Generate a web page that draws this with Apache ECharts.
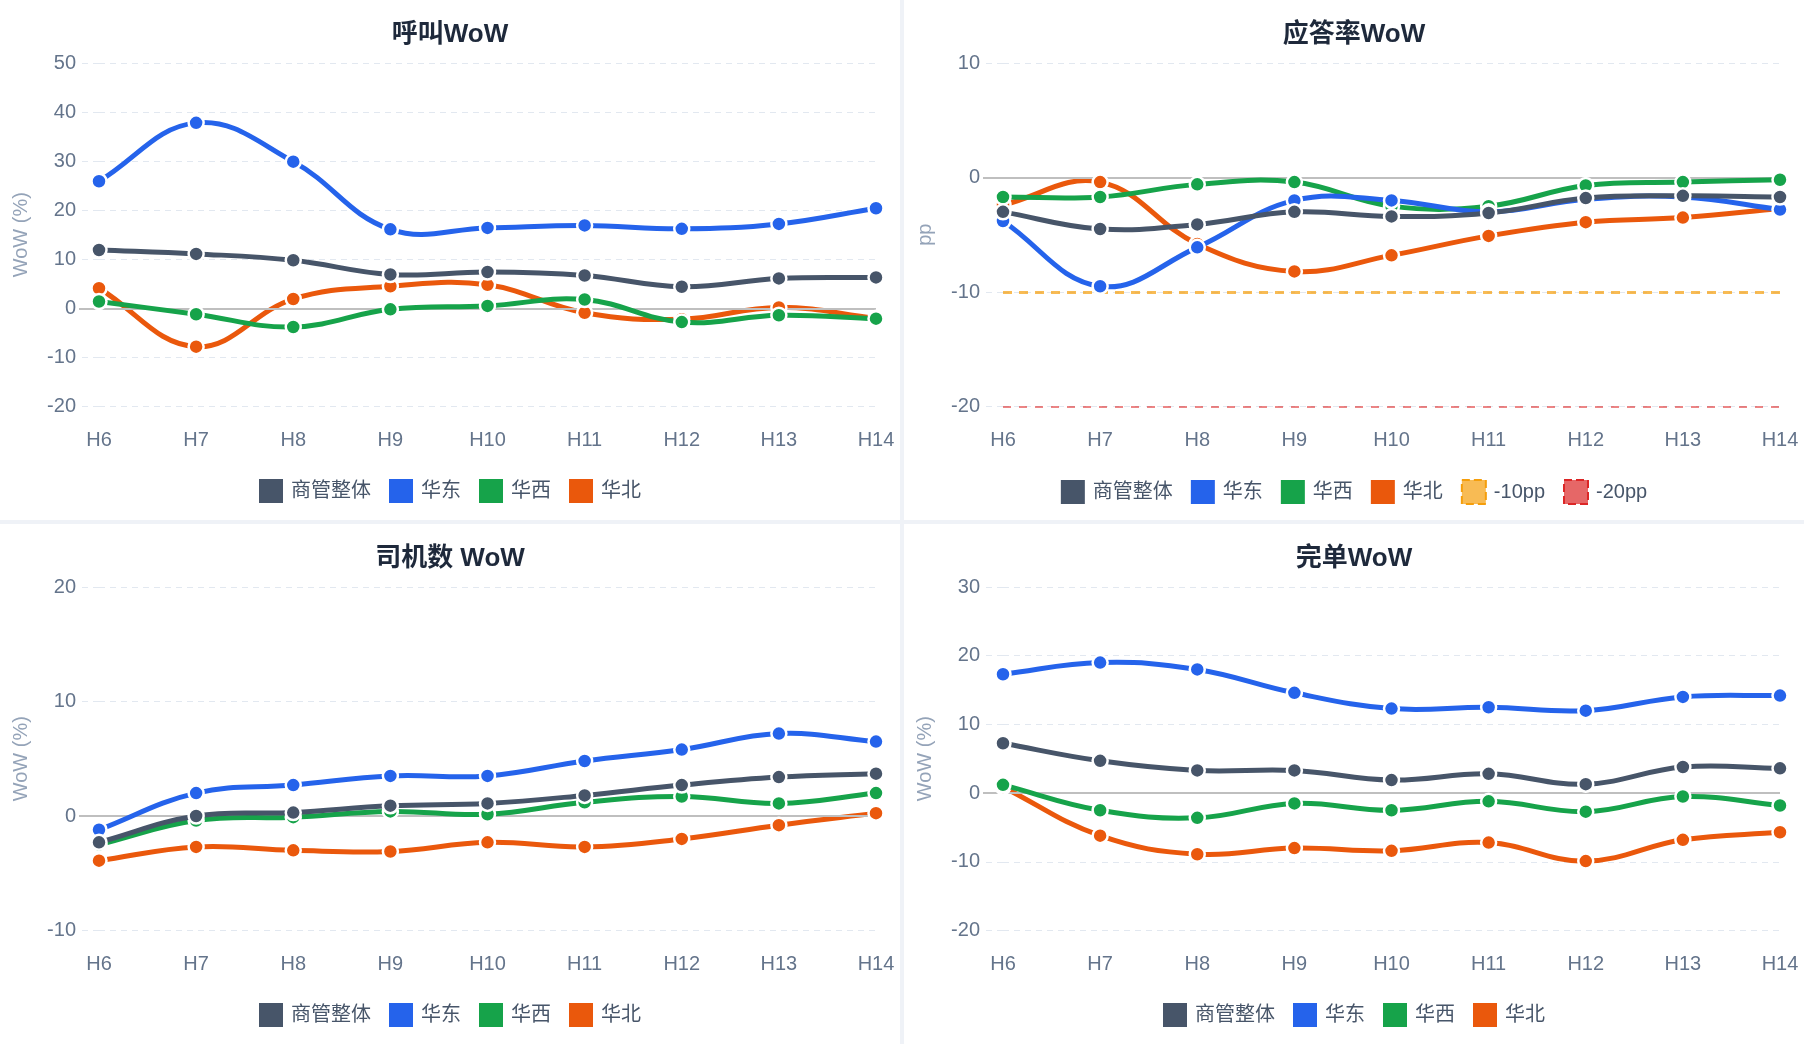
<!DOCTYPE html>
<html lang="zh-CN">
<head>
<meta charset="utf-8">
<title>商管 WoW 看板</title>
<script src="https://cdn.jsdelivr.net/npm/echarts@6/dist/echarts.min.js"></script>
<style>
  html, body { margin: 0; padding: 0; background: #eff2f7; }
  #board {
    display: grid;
    grid-template-columns: 900px 900px;
    grid-template-rows: 520px 520px;
    gap: 4px;
    width: 1804px;
    height: 1044px;
  }
  .panel { background: #fff; width: 900px; height: 520px; }
</style>
</head>
<body>
<div id="board">
  <div class="panel" id="calls"></div>
  <div class="panel" id="answer"></div>
  <div class="panel" id="drivers"></div>
  <div class="panel" id="done"></div>
</div>
<script>
// 横轴：小时
const hours = ['H6', 'H7', 'H8', 'H9', 'H10', 'H11', 'H12', 'H13', 'H14']
const regions = ['商管整体', '华东', '华西', '华北']
const regionColors = ['#475569', '#2563eb', '#16a34a', '#ea580c']

// 呼叫 WoW (%)
const callsTotal = [11.9, 11.1, 9.8, 6.9, 7.4, 6.7, 4.4, 6.1, 6.3]
const callsEast = [25.9, 37.8, 29.9, 16.1, 16.4, 16.9, 16.2, 17.2, 20.4]
const callsWest = [1.4, -1.2, -3.8, -0.2, 0.5, 1.8, -2.8, -1.4, -2.1]
const callsNorth = [4.1, -7.8, 1.9, 4.5, 4.8, -0.9, -2.2, 0.2, -2.0]

// 应答率 WoW (pp)
const answerTotal = [-3.0, -4.5, -4.1, -3.0, -3.4, -3.1, -1.8, -1.6, -1.7]
const answerEast = [-3.8, -9.5, -6.1, -2.0, -2.0, -3.0, -1.9, -1.7, -2.8]
const answerWest = [-1.7, -1.7, -0.6, -0.4, -2.5, -2.5, -0.7, -0.4, -0.2]
const answerNorth = [-2.4, -0.4, -5.8, -8.2, -6.8, -5.1, -3.9, -3.5, -2.7]
const answerThresholds = [-10, -20]
const thresholdNames = ['-10pp', '-20pp']

// 司机数 WoW (%)
const driversTotal = [-2.3, 0.0, 0.3, 0.9, 1.1, 1.8, 2.7, 3.4, 3.7]
const driversEast = [-1.2, 2.0, 2.7, 3.5, 3.5, 4.8, 5.8, 7.2, 6.5]
const driversWest = [-2.5, -0.4, -0.1, 0.4, 0.15, 1.2, 1.7, 1.1, 2.0]
const driversNorth = [-3.9, -2.7, -3.0, -3.1, -2.3, -2.7, -2.0, -0.8, 0.25]

// 完单 WoW (%)
const doneTotal = [7.25, 4.7, 3.3, 3.3, 1.9, 2.8, 1.3, 3.8, 3.6]
const doneEast = [17.3, 19.0, 18.0, 14.6, 12.3, 12.5, 12.0, 14.0, 14.2]
const doneWest = [1.2, -2.5, -3.6, -1.5, -2.5, -1.2, -2.7, -0.5, -1.8]
const doneNorth = [0.9, -6.2, -8.9, -8.0, -8.4, -7.2, -9.9, -6.8, -5.7]

const FONT = '"Liberation Sans", Arial, "Noto Sans CJK SC", sans-serif'
const GRID_COLOR = '#e2e8f0'
const TENSION = 0.4
const GRID_LEFT = 99

// 样条控制点（像素空间，按前后段长度分配张力）
function splineCurve(prev, cur, next, t) {
  const d01 = Math.hypot(cur[0] - prev[0], cur[1] - prev[1])
  const d12 = Math.hypot(next[0] - cur[0], next[1] - cur[1])
  const sum = d01 + d12
  const fa = sum ? (t * d01) / sum : 0
  const fb = sum ? (t * d12) / sum : 0
  const vx = next[0] - prev[0]
  const vy = next[1] - prev[1]
  return {
    prev: [cur[0] - fa * vx, cur[1] - fa * vy],
    next: [cur[0] + fb * vx, cur[1] + fb * vy],
  }
}

// 曲线：custom 系列逐段画三次贝塞尔
function curveSeries(list, i) {
  return {
    name: regions[i],
    type: 'custom',
    z: 10 - 2 * i,
    silent: true,
    data: list.map((v, k) => [k, v]),
    encode: { x: 0, y: 1 },
    itemStyle: { color: regionColors[i] },
    renderItem(params, api) {
      const k = params.dataIndex
      if (k >= list.length - 1) return { type: 'group', children: [] }
      const pts = list.map((v, j) => api.coord([j, v]))
      const last = pts.length - 1
      const cps = pts.map((p, j) => splineCurve(pts[Math.max(j - 1, 0)], p, pts[Math.min(j + 1, last)], TENSION))
      const a = pts[k]
      const b = pts[k + 1]
      return {
        type: 'bezierCurve',
        shape: {
          x1: a[0], y1: a[1], x2: b[0], y2: b[1],
          cpx1: cps[k].next[0], cpy1: cps[k].next[1],
          cpx2: cps[k + 1].prev[0], cpy2: cps[k + 1].prev[1],
        },
        style: { stroke: regionColors[i], lineWidth: 5, fill: null },
      }
    },
  }
}

// 数据点：line 系列只画圆点，线条透明
function markerSeries(list, i) {
  return {
    name: regions[i],
    type: 'line',
    data: list,
    z: 11 - 2 * i,
    symbol: 'circle',
    symbolSize: 15,
    lineStyle: { opacity: 0, width: 0 },
    itemStyle: { color: regionColors[i], borderColor: '#fff', borderWidth: 2.5 },
    emphasis: { disabled: true },
  }
}

// 0 轴实线（左端伸出到刻度线起点）
function zeroLine() {
  return {
    name: 'zero',
    type: 'line',
    data: [],
    z: 1,
    silent: true,
    markLine: {
      silent: true,
      symbol: ['none', 'none'],
      label: { show: false },
      lineStyle: { color: '#bfbfbf', width: 2, type: 'solid' },
      data: [[
        { xAxis: hours[0], yAxis: 0, x: GRID_LEFT - 20 },
        { xAxis: hours[hours.length - 1], yAxis: 0 },
      ]],
    },
  }
}

function buildOption(cfg) {
  const legendData = regions.slice().concat(cfg.legendExtra || [])
  const regionParts = []
  cfg.lists.forEach((list, i) => {
    regionParts.push(curveSeries(list, i), markerSeries(list, i))
  })
  return {
    animation: false,
    textStyle: { fontFamily: FONT },
    title: {
      text: cfg.title,
      left: 'center',
      top: 21.5,
      padding: 0,
      textStyle: { fontSize: 26, fontWeight: 'bold', color: '#1e293b', fontFamily: FONT },
    },
    legend: {
      data: legendData,
      left: 'center',
      top: 479,
      padding: 0,
      icon: 'rect',
      itemWidth: 24,
      itemHeight: 24,
      itemGap: 18,
      itemStyle: { borderWidth: 0 },
      textStyle: { fontSize: 20, color: '#475569', fontFamily: FONT, padding: [0, 0, 0, 3] },
    },
    grid: { left: GRID_LEFT, right: 24, top: 63, bottom: 113.5 },
    xAxis: {
      type: 'category',
      data: hours,
      boundaryGap: false,
      axisLine: { show: false },
      axisTick: { show: false },
      axisLabel: { color: '#64748b', fontSize: 20, margin: 24, fontFamily: FONT },
      splitLine: { show: false },
    },
    yAxis: {
      type: 'value',
      min: cfg.min,
      max: cfg.max,
      interval: 10,
      name: cfg.yName,
      nameLocation: 'middle',
      nameGap: 68,
      nameTextStyle: { color: '#94a3b8', fontSize: 20, fontFamily: FONT },
      axisLine: { show: false },
      axisTick: { show: true, length: 20, lineStyle: { color: GRID_COLOR, type: [6, 5] } },
      axisLabel: { color: '#64748b', fontSize: 20, margin: 23, fontFamily: FONT },
      splitLine: { show: true, lineStyle: { color: GRID_COLOR, width: 1, type: [6, 5] } },
    },
    series: [zeroLine()].concat(cfg.extraSeries || [], regionParts),
  }
}

// 应答率阈值线（-10pp / -20pp）
const thresholdStyles = [
  { line: 'rgba(245,158,11,0.7)', fill: 'rgba(245,158,11,0.7)', border: '#f59e0b', width: 3, dash: [9, 7] },
  { line: 'rgba(220,38,38,0.75)', fill: 'rgba(220,38,38,0.7)', border: '#dc2626', width: 1.5, dash: [8, 8] },
]
const thresholdSeries = answerThresholds.map((v, i) => ({
  name: thresholdNames[i],
  type: 'line',
  data: [],
  z: 2,
  silent: true,
  itemStyle: { color: thresholdStyles[i].fill },
  lineStyle: { color: thresholdStyles[i].line },
  markLine: {
    silent: true,
    symbol: ['none', 'none'],
    label: { show: false },
    lineStyle: { color: thresholdStyles[i].line, width: thresholdStyles[i].width, type: thresholdStyles[i].dash },
    data: [{ yAxis: v }],
  },
}))
const thresholdLegend = thresholdNames.map((n, i) => ({
  name: n,
  itemStyle: {
    color: thresholdStyles[i].fill,
    borderColor: thresholdStyles[i].border,
    borderWidth: 2,
    borderType: 'dashed',
  },
}))

const panels = [
  { el: 'calls', title: '呼叫WoW', yName: 'WoW (%)', min: -20, max: 50,
    lists: [callsTotal, callsEast, callsWest, callsNorth] },
  { el: 'answer', title: '应答率WoW', yName: 'pp', min: -20, max: 10,
    lists: [answerTotal, answerEast, answerWest, answerNorth],
    extraSeries: thresholdSeries, legendExtra: thresholdLegend },
  { el: 'drivers', title: '司机数 WoW', yName: 'WoW (%)', min: -10, max: 20,
    lists: [driversTotal, driversEast, driversWest, driversNorth] },
  { el: 'done', title: '完单WoW', yName: 'WoW (%)', min: -20, max: 30,
    lists: [doneTotal, doneEast, doneWest, doneNorth] },
]

panels.forEach((p) => {
  const chart = echarts.init(document.getElementById(p.el), null, { renderer: 'canvas' })
  chart.setOption(buildOption(p))
})
</script>
</body>
</html>
